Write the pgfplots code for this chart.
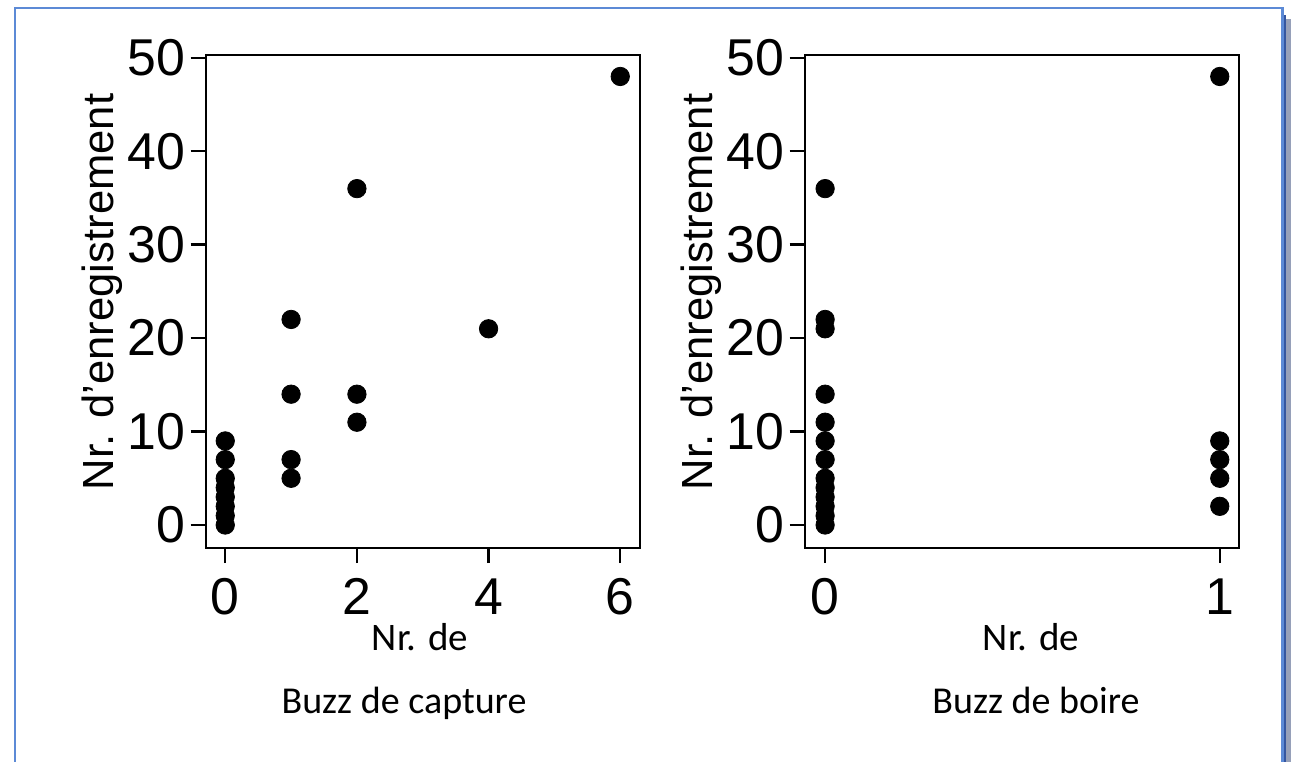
\documentclass[border=0pt]{standalone}
\usepackage{pgfplots}
\pgfplotsset{compat=1.18}
\usepackage{fontspec}
\setmainfont{Liberation Sans}
\newfontfamily\calibri{Carlito}
\definecolor{frameblue}{RGB}{92,138,214}
\definecolor{framedark}{RGB}{52,86,160}
\definecolor{frameshadow}{RGB}{150,160,185}
\pgfplotsset{
  panel/.style={
    scale only axis,
    width=217.25pt, height=246.5pt,
    axis line style={line width=1pt},
    tick align=outside,
    xtick pos=bottom, ytick pos=left,
    major tick length=7.5pt,
    tick style={line width=1.2pt, black},
    /pgf/number format/assume math mode=true,
    tick label style={font=\fontsize{25.9}{30}\selectfont},
    xticklabel style={inner sep=0pt, anchor=north},
    yticklabel style={inner sep=0pt, anchor=east},
    xticklabel shift=7.5pt,
    yticklabel shift=2.5pt,
    ymin=-2.46, ymax=50.3,
    ytick={0,10,20,30,40,50},
    clip=false,
  },
  dots/.style={only marks, mark=*, mark size=4.6pt, black, mark options={fill=black, draw=black}},
}
\begin{document}
\begin{tikzpicture}
\useasboundingbox (0,0) rectangle (645.5pt,380.5pt);
% frame
\fill[frameshadow] (643pt,-1pt) rectangle (645.5pt,371pt);
\fill[framedark] (641pt,-1pt) rectangle (643.2pt,373pt);
\draw[frameblue, line width=1.3pt] (7.5pt,-2pt) -- (7.5pt,376.5pt) -- (641.2pt,376.5pt) -- (641.2pt,-2pt);

\begin{axis}[panel, at={(102.75pt,106.5pt)}, anchor=south west,
  xmin=-0.3, xmax=6.3, xtick={0,2,4,6}]
\addplot[dots] coordinates {
 (0,0) (0,1) (0,2) (0,3) (0,4) (0,5) (0,7) (0,9)
 (1,5) (1,7) (1,14) (1,22)
 (2,11) (2,14) (2,36)
 (4,21)
 (6,48)
};
\end{axis}

\begin{axis}[panel, at={(402.3pt,106.5pt)}, anchor=south west,
  xmin=-0.052, xmax=1.049, xtick={0,1}]
\addplot[dots] coordinates {
 (0,0) (0,1) (0,2) (0,3) (0,4) (0,5) (0,7) (0,9) (0,11) (0,14) (0,21) (0,22) (0,36)
 (1,2) (1,5) (1,7) (1,9) (1,48)
};
\end{axis}

\node[rotate=90, inner sep=0pt, font=\fontsize{21.8}{26}\selectfont] at (51pt,234.5pt) {Nr. d’enregistrement};
\node[rotate=90, inner sep=0pt, font=\fontsize{21.8}{26}\selectfont] at (350.5pt,234.5pt) {Nr. d’enregistrement};

\node[anchor=base, inner sep=0pt, font=\calibri\fontsize{19.5}{23}\selectfont] at (210pt,55.5pt) {Nr. de};
\node[anchor=base, inner sep=0pt, font=\calibri\fontsize{19}{23}\selectfont] at (202pt,24pt) {Buzz de capture};
\node[anchor=base, inner sep=0pt, font=\calibri\fontsize{19.5}{23}\selectfont] at (515.5pt,55.5pt) {Nr. de};
\node[anchor=base, inner sep=0pt, font=\calibri\fontsize{19}{23}\selectfont] at (518pt,24pt) {Buzz de boire};
\end{tikzpicture}
\end{document}
